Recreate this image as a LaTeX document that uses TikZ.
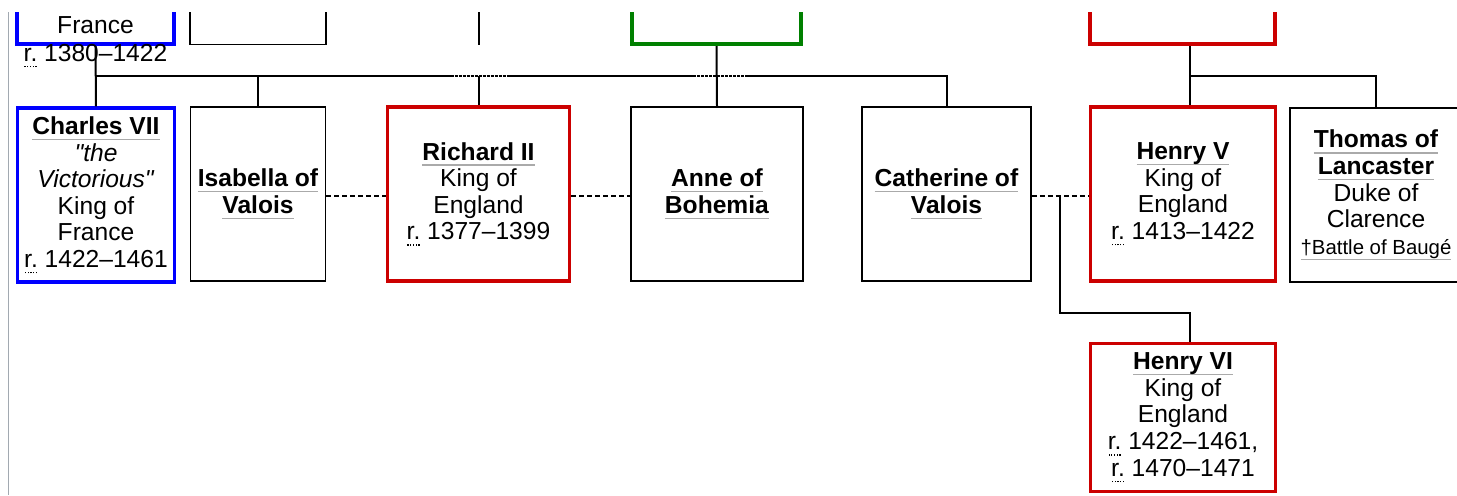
\documentclass[tikz,border=0pt]{standalone}
\usepackage{fontspec}
\setmainfont{Liberation Sans}
\newfontfamily\plainfont{Liberation Sans}
\usetikzlibrary{calc}
\definecolor{kingblue}{HTML}{0000FF}
\definecolor{kingred}{HTML}{CC0000}
\definecolor{kinggreen}{HTML}{008000}
\definecolor{linkgray}{HTML}{AAAAAA}
\definecolor{railgray}{HTML}{A2A9B1}
% grey link underline and dotted abbreviation underline
\newcommand\lnk[1]{\leavevmode\setbox0=\hbox{#1}\rlap{\color{linkgray}\rule[-2.8pt]{\wd0}{0.7pt}}\box0\relax}
\newcommand\abr[1]{\leavevmode\setbox0=\hbox{#1}\rlap{\hbox to\wd0{\xleaders\hbox to 1.3pt{\hss\rule[-3pt]{0.6pt}{0.7pt}\hss}\hfill}}\box0\relax}
\newcommand\sq{{\plainfont\itshape"}}
\begin{document}
\begin{tikzpicture}[x=0.5pt,y=-0.5pt,
    person/.style={draw=black,line width=0.75pt,fill=white,align=center,inner sep=0pt,
      font=\fontsize{12.3}{13.3}\selectfont,minimum height=87pt},
    france/.style={person,draw=kingblue,line width=1.6pt},
    england/.style={person,draw=kingred,line width=1.6pt},
    bohemia/.style={person,draw=kinggreen,line width=2pt},
    desc/.style={line width=1pt},
    overpass/.style={line width=1pt,dash pattern=on 1.5pt off 0.5pt},
    marriage/.style={line width=0.9pt,dash pattern=on 2.5pt off 1.5pt}]
  \useasboundingbox (0,0) rectangle (1457,495);
  \clip (0,12) rectangle (1457,495);
  \draw[railgray,line width=0.8pt] (8.5,0) -- (8.5,495); % left rail
  % upper generation (cut off)
  \node[france,line width=2pt,minimum width=78.5pt,minimum height=52pt] (charlesvi) at (95.5,-8) {};
  \node[person,minimum width=68pt,minimum height=52pt] (isabeau) at (258,-7.5) {};
  \node[bohemia,minimum width=84.5pt,minimum height=52pt] (charlesiv) at (716.5,-8) {};
  \node[england,line width=2pt,minimum width=92.5pt,minimum height=52pt] (henryiv) at (1182.5,-8) {};
  \node[font=\fontsize{12.3}{13.3}\selectfont,anchor=base] (francetxt) at (95.5,33) {France};
  \node[font=\fontsize{12.3}{13.3}\selectfont,anchor=base] (reigntxt) at (95.5,61) {\abr{r.} 1380--1422};
  % main row
  \node[france,minimum width=78.5pt] (charlesvii) at (96,195) {\lnk{\textbf{Charles VII}}\\\textit{\sq the}\\\textit{Victorious\sq}\\King of\\France\\\abr{r.} 1422--1461};
  \node[person,minimum width=67.5pt] (isabella) at (258,194) {\lnk{\textbf{Isabella of}}\\\lnk{\textbf{Valois}}};
  \node[england,minimum width=91pt] (richardii) at (478.5,194) {\lnk{\textbf{Richard II}}\\King of\\England\\\abr{r.} 1377--1399};
  \node[person,minimum width=86pt] (anne) at (717,194) {\lnk{\textbf{Anne of}}\\\lnk{\textbf{Bohemia}}};
  \node[person,minimum width=84.5pt] (catherine) at (946.5,194) {\lnk{\textbf{Catherine of}}\\\lnk{\textbf{Valois}}};
  \node[england,minimum width=92.5pt] (henryv) at (1183,194) {\lnk{\textbf{Henry V}}\\King of\\England\\\abr{r.} 1413--1422};
  \node[person,minimum width=86pt] (thomas) at (1376,195) {\lnk{\textbf{Thomas of}}\\\lnk{\textbf{Lancaster}}\\Duke of\\Clarence\\{\fontsize{10.2}{14}\selectfont\lnk{†Battle of Baugé}}};
  \node[england,minimum width=92.5pt,minimum height=74pt] (henryvi) at (1183,417.5) {\lnk{\textbf{Henry VI}}\\King of\\England\\\abr{r.} 1422--1461,\\\abr{r.} 1470--1471};
  \coordinate (bar) at (0,76);
  \coordinate (crest) at (0,0);
  \coordinate (hv) at (1190,0);
  \coordinate (hvibend) at (1190,313);
  % children of Charles VI
  \draw[desc] (charlesvi.south) -- (charlesvii.north);
  \draw[desc] (charlesvii.north |- bar) -- ($(richardii.north |- bar)+(-28,0)$);
  \draw[overpass] ($(richardii.north |- bar)+(-28,0)$) -- ($(richardii.north |- bar)+(28,0)$);
  \draw[desc] ($(richardii.north |- bar)+(28,0)$) -- ($(anne.north |- bar)+(-24,0)$);
  \draw[overpass] ($(anne.north |- bar)+(-24,0)$) -- ($(anne.north |- bar)+(28,0)$);
  \draw[desc] ($(anne.north |- bar)+(28,0)$) -- (catherine.north |- bar) -- (catherine.north);
  \draw[desc] (isabella.north |- bar) -- (isabella.north);
  % Richard II, Anne, Henry V lines
  \draw[desc] (richardii.north |- crest) -- (richardii.north |- isabeau.south);
  \draw[desc] (richardii.north |- bar) -- (richardii.north);
  \draw[desc] (charlesiv.south) -- (anne.north);
  \draw[desc] (henryiv.south -| hv) -- (henryv.north -| hv);
  \draw[desc] (bar -| hv) -| (thomas.north);
  % marriages
  \draw[marriage] ([yshift=-1pt]isabella.east) -- ([yshift=-1pt]richardii.west);
  \draw[marriage] ([yshift=-1pt]richardii.east) -- ([yshift=-1pt]anne.west);
  \draw[marriage] ([yshift=-1pt]catherine.east) -- coordinate (wed) ([yshift=-1pt]henryv.west);
  \draw[desc] (wed) |- (hvibend) -- (henryvi.north -| hvibend);
\end{tikzpicture}
\end{document}
